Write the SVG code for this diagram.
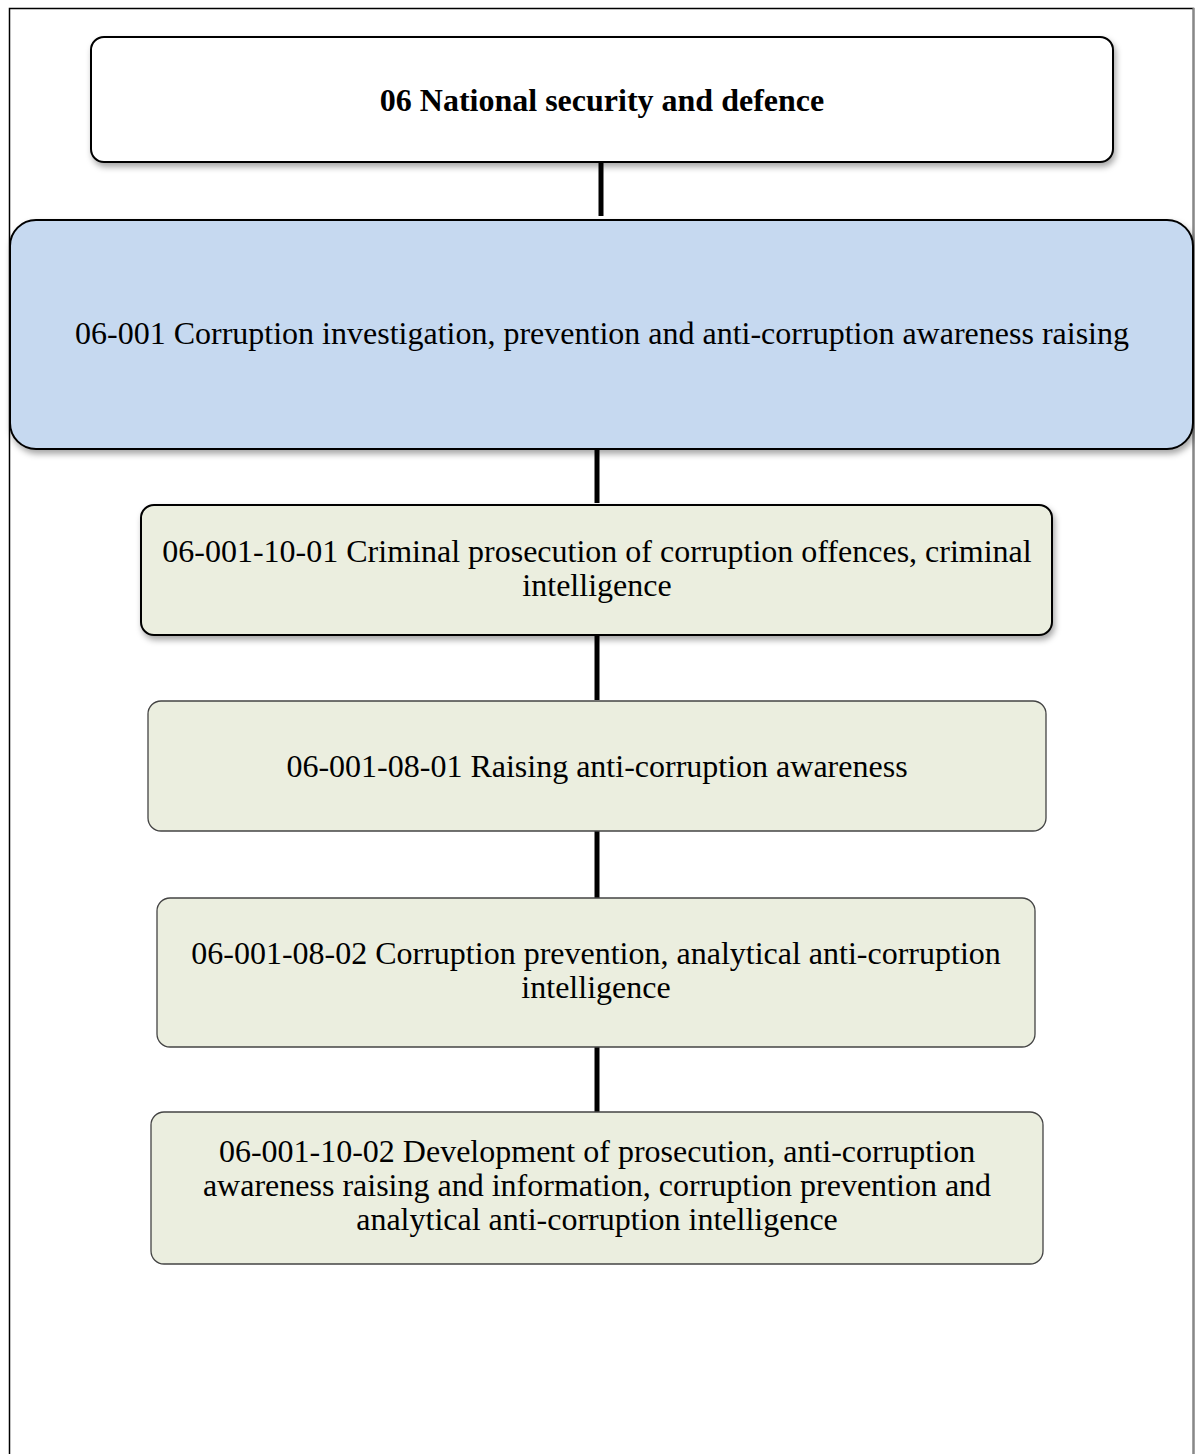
<svg xmlns="http://www.w3.org/2000/svg" width="1195" height="1454" viewBox="0 0 1195 1454">
<defs>
<filter id="sh" x="-5%" y="-10%" width="110%" height="130%">
<feDropShadow dx="2" dy="4" stdDeviation="3" flood-color="#000" flood-opacity="0.35"/>
</filter>
</defs>
<style>
.t{font-family:"Liberation Serif","Times New Roman",serif;font-size:32px;fill:#000;text-anchor:middle}
.b{font-weight:bold}
.n1{fill:#fff;stroke:#000;stroke-width:2}
.n2{fill:#c6d9f0;stroke:#000;stroke-width:2}
.n3{fill:#ebeedf;stroke:#000;stroke-width:2}
.n4{fill:#ebeedf;stroke:#444;stroke-width:1.3}
.c{stroke:#000;stroke-width:5}
</style>
<rect x="0" y="0" width="1195" height="1454" fill="#fff"/>
<path d="M9.5 1454 V8.5 H1193.5 V1454" fill="none" stroke="#000" stroke-width="1.5"/>
<line x1="1193.5" y1="8" x2="1193.5" y2="1454" stroke="#888" stroke-width="2"/>
<g id="connectors">
<line class="c" x1="601" y1="162" x2="601" y2="216"/>
<line class="c" x1="597" y1="449" x2="597" y2="503"/>
<line class="c" x1="597" y1="635" x2="597" y2="700"/>
<line class="c" x1="597" y1="831" x2="597" y2="898"/>
<line class="c" x1="597" y1="1047" x2="597" y2="1112"/>
</g>
<g id="n06">
<rect class="n1" x="91" y="37" width="1022" height="125" rx="13" filter="url(#sh)"/>
<text class="t b" x="602" y="111">06 National security and defence</text>
</g>
<g id="n06-001">
<rect class="n2" x="10" y="220" width="1183" height="229" rx="26" filter="url(#sh)"/>
<text class="t" x="602" y="344">06-001 Corruption investigation, prevention and anti-corruption awareness raising</text>
</g>
<g id="n06-001-10-01">
<rect class="n3" x="141" y="505" width="911" height="130" rx="13" filter="url(#sh)"/>
<text class="t" x="597" y="562">06-001-10-01 Criminal prosecution of corruption offences, criminal</text>
<text class="t" x="597" y="596">intelligence</text>
</g>
<g id="n06-001-08-01">
<rect class="n4" x="148" y="701" width="898" height="130" rx="13"/>
<text class="t" x="597" y="777">06-001-08-01 Raising anti-corruption awareness</text>
</g>
<g id="n06-001-08-02">
<rect class="n4" x="157" y="898" width="878" height="149" rx="13"/>
<text class="t" x="596" y="964">06-001-08-02 Corruption prevention, analytical anti-corruption</text>
<text class="t" x="596" y="998">intelligence</text>
</g>
<g id="n06-001-10-02">
<rect class="n4" x="151" y="1112" width="892" height="152" rx="13"/>
<text class="t" x="597" y="1162">06-001-10-02 Development of prosecution, anti-corruption</text>
<text class="t" x="597" y="1196">awareness raising and information, corruption prevention and</text>
<text class="t" x="597" y="1230">analytical anti-corruption intelligence</text>
</g>
</svg>
